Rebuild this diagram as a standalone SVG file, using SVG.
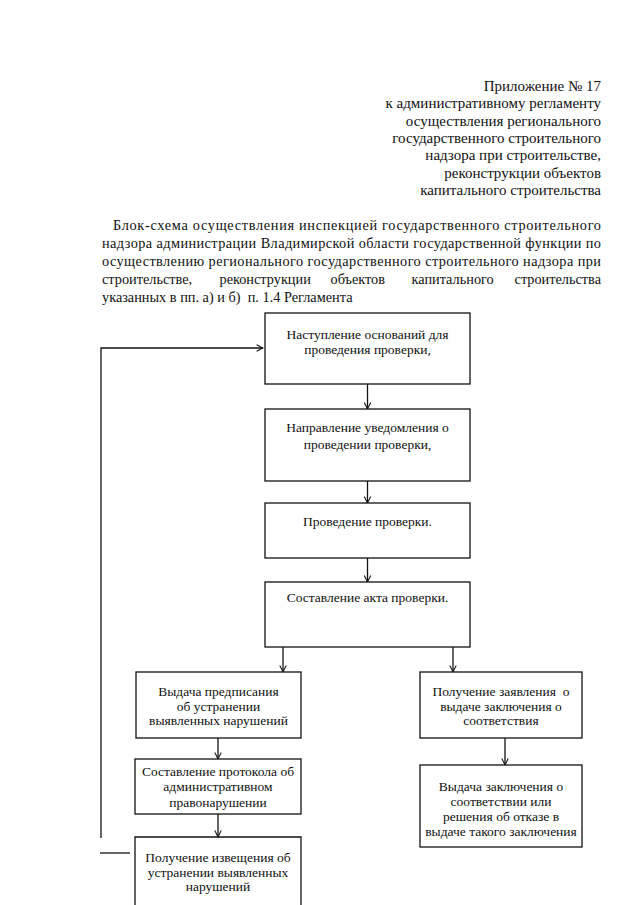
<svg xmlns="http://www.w3.org/2000/svg" width="640" height="905" viewBox="0 0 640 905">
<defs>
<style>
text{font-family:"Liberation Serif","Times New Roman",serif;fill:#111}
.h{font-size:15px;text-anchor:end}
.p{font-size:14.3px}
.b{font-size:13.5px;text-anchor:middle}
.box{fill:#fff;stroke:#111;stroke-width:1.3}
.ln{fill:none;stroke:#111;stroke-width:1.3}
</style>
<marker id="arr" viewBox="0 0 10 10" refX="9" refY="5" markerWidth="8" markerHeight="8" markerUnits="userSpaceOnUse" orient="auto">
<path d="M1,1 L9,5 L1,9" fill="none" stroke="#111" stroke-width="1.3"/>
</marker>
</defs>
<rect width="640" height="905" fill="#fff"/>
<g id="header">
<text class="h" x="601" y="91">Приложение № 17</text>
<text class="h" x="601" y="108">к административному регламенту</text>
<text class="h" x="601" y="125.5">осуществления регионального</text>
<text class="h" x="601" y="143">государственного строительного</text>
<text class="h" x="601" y="160">надзора при строительстве,</text>
<text class="h" x="601" y="177.5">реконструкции объектов</text>
<text class="h" x="601" y="195">капитального строительства</text>
</g>
<g id="title">
<text class="p" x="113" y="230" textLength="488" lengthAdjust="spacing">Блок-схема осуществления инспекцией государственного строительного</text>
<text class="p" x="102" y="248" textLength="499" lengthAdjust="spacing">надзора администрации Владимирской области государственной функции по</text>
<text class="p" x="102" y="266" textLength="499" lengthAdjust="spacing">осуществлению регионального государственного строительного надзора при</text>
<text class="p" x="102" y="284">строительстве,</text>
<text class="p" x="219.5" y="284">реконструкции</text>
<text class="p" x="330.5" y="284">объектов</text>
<text class="p" x="411.5" y="284">капитального</text>
<text class="p" x="601" y="284" text-anchor="end">строительства</text>
<text class="p" x="102" y="302" xml:space="preserve">указанных в пп. а) и б)  п. 1.4 Регламента</text>
</g>
<g id="connectors">
<line class="ln" x1="367.5" y1="384" x2="367.5" y2="409" marker-end="url(#arr)"/>
<line class="ln" x1="367.5" y1="481" x2="367.5" y2="503" marker-end="url(#arr)"/>
<line class="ln" x1="367.5" y1="558" x2="367.5" y2="582" marker-end="url(#arr)"/>
<line class="ln" x1="283" y1="647" x2="283" y2="672" marker-end="url(#arr)"/>
<line class="ln" x1="453" y1="647" x2="453" y2="672" marker-end="url(#arr)"/>
<line class="ln" x1="218" y1="738" x2="218" y2="759" marker-end="url(#arr)"/>
<line class="ln" x1="218" y1="814" x2="218" y2="837" marker-end="url(#arr)"/>
<line class="ln" x1="505" y1="738" x2="505" y2="765" marker-end="url(#arr)"/>
<polyline class="ln" points="101,838 101,348 263,348" marker-end="url(#arr)"/>
<line class="ln" x1="100" y1="853" x2="130" y2="853"/>
</g>
<g id="n1">
<rect class="box" x="265" y="313" width="205" height="71"/>
<text class="b" x="367.5" y="339">Наступление оснований для</text>
<text class="b" x="367.5" y="354">проведения проверки,</text>
</g>
<g id="n2">
<rect class="box" x="265" y="409" width="205" height="72"/>
<text class="b" x="367.5" y="432">Направление уведомления о</text>
<text class="b" x="367.5" y="449">проведении проверки,</text>
</g>
<g id="n3">
<rect class="box" x="265" y="503" width="205" height="55"/>
<text class="b" x="367.5" y="526">Проведение проверки.</text>
</g>
<g id="n4">
<rect class="box" x="265" y="582" width="205" height="65"/>
<text class="b" x="367.5" y="602">Составление акта проверки.</text>
</g>
<g id="n5">
<rect class="box" x="136" y="672" width="165" height="66"/>
<text class="b" x="218.5" y="696">Выдача предписания</text>
<text class="b" x="218.5" y="711">об устранении</text>
<text class="b" x="218.5" y="725">выявленных нарушений</text>
</g>
<g id="n6">
<rect class="box" x="420" y="672" width="162" height="66"/>
<text class="b" x="501" y="696" xml:space="preserve">Получение заявления  о</text>
<text class="b" x="501" y="711">выдаче заключения о</text>
<text class="b" x="501" y="725">соответствия</text>
</g>
<g id="n7">
<rect class="box" x="135" y="759" width="166" height="55"/>
<text class="b" x="218" y="776">Составление протокола об</text>
<text class="b" x="218" y="791">административном</text>
<text class="b" x="218" y="807">правонарушении</text>
</g>
<g id="n8">
<rect class="box" x="420" y="765" width="162" height="82"/>
<text class="b" x="501" y="791">Выдача заключения о</text>
<text class="b" x="501" y="806">соответствии или</text>
<text class="b" x="501" y="821">решения об отказе в</text>
<text class="b" x="501" y="836">выдаче такого заключения</text>
</g>
<g id="n9">
<path class="ln" d="M135,905 V837 H301 V905"/>
<text class="b" x="218" y="862">Получение извещения об</text>
<text class="b" x="218" y="877">устранении выявленных</text>
<text class="b" x="218" y="891">нарушений</text>
</g>
</svg>
